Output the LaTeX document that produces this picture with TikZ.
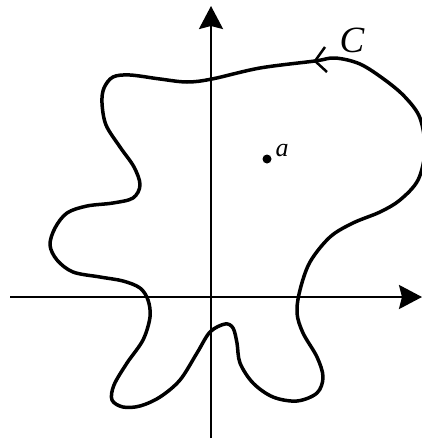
\documentclass[tikz,border=0pt]{standalone}
\usepackage{fontspec}
\setmainfont{Liberation Serif}
\usetikzlibrary{arrows.meta}
\begin{document}
\begin{tikzpicture}[x=1pt,y=-1pt,
  axis/.style={line width=2.5pt,-{Stealth[length=23pt,width=24pt,inset=3pt]}},
  contour/.style={line width=3.5pt,line join=round},
  barb/.style={line width=2.5pt,line cap=butt,line join=miter}]
\useasboundingbox (0,0) rectangle (422,439);
\clip (0,0) rectangle (422,439);
% axes
\coordinate (ybot) at (211,438);
\coordinate (ytop) at (211,6);
\coordinate (xl) at (10,297);
\coordinate (xr) at (422,297);
\draw[axis] (ybot) -- (ytop);
\draw[axis] (xl) -- (xr);
% contour C
\draw[contour] plot[smooth cycle,tension=0.55] coordinates {
(315,61) (260,68) (212,79) (187,82) (160,79) (130,75) (113,77) (104,88)
(102,103) (106,125) (120,147) (134,167) (140,185) (133,198) (113,203)
(87,206) (67,213) (55,228) (50,245) (57,260) (73,272) (100,277) (123,281)
(140,288) (148,300) (150,317) (143,340) (127,363) (114,385) (112,400)
(123,407) (140,406) (160,397) (180,380) (197,353) (210,332) (225,324)
(233,328) (237,343) (240,363) (253,383) (273,397) (297,401) (317,393)
(323,377) (317,357) (303,333) (297,313) (300,290) (310,262) (330,237)
(353,223) (380,212) (400,200) (418,180) (425,150) (420,118) (405,97)
(385,80) (360,64) (335,58)};
% orientation barb
\coordinate (bv) at (315,61);
\coordinate (b1) at (325,47);
\coordinate (b2) at (327,72);
\draw[barb] (b1) -- (bv) -- (b2);
% labels
\node[font=\fontsize{37}{37}\selectfont\itshape,inner sep=0] (C) at (352,40) {C};
\node[circle,fill,inner sep=0,minimum size=9pt] (a) at (267,159) {};
\node[font=\fontsize{26}{26}\selectfont\itshape,inner sep=0] (alab) at (282,151) {a};
\end{tikzpicture}
\end{document}
